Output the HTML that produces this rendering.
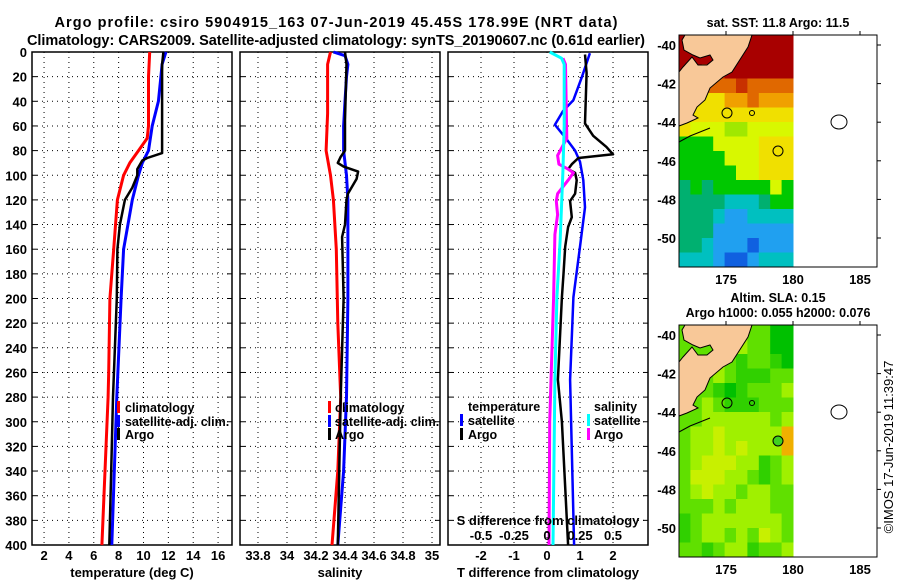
<!DOCTYPE html>
<html><head><meta charset="utf-8"><style>
body{margin:0;background:#fff}
svg{display:block;font-family:"Liberation Sans",Arial,sans-serif;font-weight:bold}
</style></head><body>
<svg id="s" width="900" height="580" viewBox="0 0 900 580">
<rect width="900" height="580" fill="#fff"/>
<text x="336" y="27" font-size="14.5" text-anchor="middle" textLength="563">Argo profile: csiro 5904915_163 07-Jun-2019 45.45S 178.99E (NRT data)</text>
<text x="336" y="45" font-size="14.5" text-anchor="middle" textLength="618">Climatology: CARS2009. Satellite-adjusted climatology: synTS_20190607.nc (0.61d earlier)</text>
<g id="g"></g>
<text transform="translate(893,447) rotate(-90)" font-size="13" font-weight="normal" text-anchor="middle">©IMOS 17-Jun-2019 11:39:47</text>
</svg>
<script>
// ---- profile data (depth in m) ----
const tClimDepth=[0,20,60,70,80,90,100,120,160,200,260,280,340,400];
const tClim=[10.5,10.4,10.4,10.3,9.6,8.9,8.4,7.9,7.6,7.3,7.2,7.15,6.9,6.65];
const tSatDepth=[0,10,20,40,60,80,90,100,120,160,200,280,340,400];
const tSat=[11.8,11.5,11.4,11.2,10.7,10.4,9.9,9.6,9.1,8.4,8.2,7.85,7.65,7.45];
const tArgoDepth=[0,10,40,82,86,88,95,100,110,120,140,160,200,280,340,400];
const tArgo=[11.6,11.5,11.5,11.5,10.3,9.9,9.5,9.5,9.1,8.5,8.1,7.9,7.85,7.55,7.4,7.25];
const sClimDepth=[0,10,50,80,100,120,160,220,280,340,400];
const sClim=[34.30,34.28,34.28,34.27,34.30,34.32,34.34,34.35,34.37,34.35,34.31];
const sSatDepth=[0,3,10,20,40,60,80,100,120,200,280,340,400];
const sSat=[34.32,34.40,34.42,34.41,34.40,34.39,34.39,34.41,34.42,34.42,34.41,34.39,34.35];
const sArgoDepth=[0,10,55,80,85,90,93,97,103,115,120,140,150,200,280,400];
const sArgo=[34.40,34.41,34.40,34.40,34.37,34.35,34.39,34.49,34.48,34.42,34.41,34.40,34.38,34.39,34.37,34.35];
const dTSatDepth=[1,20,39,48,59,71,80,89,104,126,158,199,266,400];
const dTSat=[1.30,1.06,0.80,0.48,0.24,0.60,0.85,1.0,1.1,1.15,1.0,0.8,0.7,0.82];
const dTArgoDepth=[2,17,58,68,77,83,86,91,95,98,104,115,121,134,142,158,180,199,266,300,400];
const dTArgo=[1.15,1.2,1.15,1.4,1.8,2.0,0.95,0.75,0.64,0.85,0.9,0.85,0.7,0.75,0.64,0.55,0.5,0.45,0.33,0.45,0.64];
const dSSatDepth=[0,5,10,60,97,152,199,266,400];
const dSSat=[0.02,0.11,0.13,0.13,0.12,0.10,0.075,0.06,0.045];
const dSArgoDepth=[5,10,70,84,91,95,98,104,115,121,132,148,199,300,400];
const dSArgo=[0.12,0.14,0.15,0.08,0.09,0.16,0.2,0.16,0.08,0.07,0.08,0.06,0.05,0.02,0.015];
const depthTicks=[0,20,40,60,80,100,120,140,160,180,200,220,240,260,280,300,320,340,360,380,400];
const tTicks=[2,4,6,8,10,12,14,16];
const sTicks=[33.8,34,34.2,34.4,34.6,34.8,35];
const dTTicks=[-2,-1,0,1,2];
const dSTicks=[-0.5,-0.25,0,0.25,0.5];
const dSTickLabels=["-0.5","-0.25","0","0.25","0.5"];

// ---- map grids ----
const sstRows=["RRRRRRRRRR","RRRRRRRRRR","RRrrRRRRRR","YoOOOrOOOO","YYYYooOooo","YYYYYYYYYY","Yyyyggyyyy","GGGyyyyYYY","GGGGyyyYYY","GGGGGyyYYY","TGTGGGGGyG","TTTTCCCTGG","TTTCBBCCCC","TTTBBBBBBB","TTCBBBDBBB","CCCBDDBCCC"];
const slaRows=["aaaddaaaGG","aaaddbaaGG","aaabadaadG","aaabadddaa","aaadGdaaab","aabadddaaa","aabbbbbbab","abbcbbbbbO","abbcbcbbbO","abcccbbdab","acccbbadab","abcbbabbaa","aaababbbaa","dabbbbbbba","dabbabacba","aadabbdaab"];
const pal={R:"#a80000",r:"#c83000",O:"#e06800",o:"#f0a000",Y:"#f0e000",y:"#d8f800",g:"#a0e800",G:"#00c800",T:"#00b070",C:"#00c0c0",B:"#20a0f0",D:"#1060e0",
 a:"#60e000",b:"#a0f000",c:"#c8f000",d:"#30d000"};
const pal2={G:"#00c000",O:"#f0b000"};

const NS="http://www.w3.org/2000/svg";
const G=document.getElementById('g');
function el(t,a,p){const e=document.createElementNS(NS,t);for(const k in a)e.setAttribute(k,a[k]);(p||G).appendChild(e);return e;}
function txt(x,y,s,fs,anchor,p){const e=el('text',{x:x,y:y,'font-size':fs,'text-anchor':anchor||'middle'},p);e.textContent=s;return e;}

const TOP=52,BOT=545;
const yD=d=>TOP+d*(BOT-TOP)/400;
function mkX(x0,x1,v0,v1){return v=>x0+(v-v0)*(x1-x0)/(v1-v0);}
const panels=[
 {x0:32,x1:232,name:'temperature-panel',sx:mkX(32,232,1.03,17.12),ticks:tTicks,lab:t=>String(t),title:'temperature (deg C)'},
 {x0:240,x1:440,name:'salinity-panel',sx:mkX(240,440,33.676,35.055),ticks:sTicks,lab:t=>String(t),title:'salinity'},
 {x0:448,x1:648,name:'difference-panel',sx:mkX(448,648,-3.00,3.06),ticks:dTTicks,lab:t=>String(t),title:'T difference from climatology'}
];
panels.forEach((P,i)=>{
 const g=el('g',{});
 
 
 depthTicks.forEach(d=>{
  if(d>0&&d<400){const l=el('line',{x1:P.x0,x2:P.x1,y1:yD(d),y2:yD(d),stroke:'#000','stroke-dasharray':'1,4'},g);
   }
  el('line',{x1:P.x0,x2:P.x0+5,y1:yD(d),y2:yD(d),stroke:'#000'},g);
  el('line',{x1:P.x1-5,x2:P.x1,y1:yD(d),y2:yD(d),stroke:'#000'},g);
 });
 P.ticks.forEach(t=>{
  const x=P.sx(t);
  const l=el('line',{x1:x,x2:x,y1:TOP,y2:BOT,stroke:'#000','stroke-dasharray':'1,4'},g);
  
  const tl=txt(x,560,P.lab(t),13,'middle',g);
  
 });
 const tt=txt((P.x0+P.x1)/2,577,P.title,13,'middle',g);
 
 const fr=el('rect',{x:P.x0,y:TOP,width:P.x1-P.x0,height:BOT-TOP,fill:'none',stroke:'#000','stroke-width':1.5},g);
 
});
depthTicks.forEach(d=>{const t=txt(27,yD(d)+5,String(d),13,'end');
 });

function line(depths,vals,sx,color,w,name){
 const pts=depths.map((d,i)=>sx(vals[i]).toFixed(1)+','+yD(d).toFixed(1)).join(' ');
 const p=el('polyline',{points:pts,fill:'none',stroke:color,'stroke-width':w,'stroke-linejoin':'round'});
 
}
const P0=panels[0].sx,P1=panels[1].sx,P2=panels[2].sx,PS=v=>P2(v*4);
line(tClimDepth,tClim,P0,'#f00',3,'temp-climatology-line');
line(tSatDepth,tSat,P0,'#00f',3,'temp-satellite-line');
line(tArgoDepth,tArgo,P0,'#000',2.5,'temp-argo-line');
line(sClimDepth,sClim,P1,'#f00',3,'sal-climatology-line');
line(sSatDepth,sSat,P1,'#00f',3,'sal-satellite-line');
line(sArgoDepth,sArgo,P1,'#000',2.5,'sal-argo-line');
line(dTSatDepth,dTSat,P2,'#00f',2.5,'tdiff-satellite-line');
line(dTArgoDepth,dTArgo,P2,'#000',2.5,'tdiff-argo-line');
line(dSArgoDepth,dSArgo,PS,'#f0f',3,'sdiff-argo-line');
line(dSSatDepth,dSSat,PS,'#0ff',3,'sdiff-satellite-line');

// S-diff axis labels inside panel 3
const st=txt(548,525,'S difference from climatology',13,'middle');

dSTicks.forEach((t,i)=>{const e=txt(PS(t),540,dSTickLabels[i],13,'middle');
 });

// legends
function leg(bx,tx,y,color,label,name){
 el('rect',{x:bx,y:y-11,width:3,height:12,fill:color});
 const t=txt(tx,y,label,12.5,'start');
 
}
leg(117,125,412,'#f00','climatology','legend-climatology');
leg(117,125,426,'#00f','satellite-adj. clim.','legend-satellite-adj');
leg(117,125,439,'#000','Argo','legend-argo');
leg(328,335,412,'#f00','climatology','legend-climatology-sal');
leg(328,335,426,'#00f','satellite-adj. clim.','legend-satellite-adj-sal');
leg(328,335,439,'#000','Argo','legend-argo-sal');
txt(468,411,'temperature',12.5,'start');
leg(460,468,425,'#00f','satellite','legend-t-satellite');
leg(460,468,439,'#000','Argo','legend-t-argo');
txt(594,411,'salinity',12.5,'start');
leg(587,594,425,'#0ff','satellite','legend-s-satellite');
leg(587,594,439,'#f0f','Argo','legend-s-argo');

// ---- maps ----
const MX0=679,MX1=877,DX1=793;
const lonX=lon=>726+(lon-175)*13.4;
const lonTicks=[175,180,185];
const latTicks=[-40,-42,-44,-46,-48,-50];
const land="685,35 752,35 748,47 732,72 723,77 710,88 705,100 697,107 693,115 698,118 687,123 679,126 679,72 683,67 692,57 698,65 707,65 713,60 710,55 700,58 693,55 684,50 682,40";
function map(top,rows,pl,name,latY0,circFill,titles){
 const g=el('g',{});
 
 const h=232, cw=(DX1-MX0)/10, ch=h/rows.length;
 rows.forEach((r,ri)=>{[...r].forEach((c,ci)=>{
  el('rect',{x:MX0+ci*cw,y:top+ri*ch,width:cw+0.5,height:ch+0.5,fill:(pl[c]||pal[c])},g);
 });});
 const off=top-35;
 const lg=el('g',{transform:'translate(0,'+off+')'},g);
 el('polygon',{points:land,fill:'#f8c898',stroke:'#000','stroke-width':1},lg);
 el('polyline',{points:'679,142 690,136 710,128',fill:'none',stroke:'#000'},lg);
 el('circle',{cx:727,cy:113,r:5,fill:'none',stroke:'#000'},lg);
 el('circle',{cx:752,cy:113,r:2.5,fill:'none',stroke:'#000'},lg);
 el('ellipse',{cx:839,cy:122,rx:8,ry:7,fill:'#fff',stroke:'#000'},lg);
 const c=el('circle',{cx:778,cy:151,r:5,fill:circFill,stroke:'#000'},lg);
 
 el('rect',{x:MX0,y:top,width:MX1-MX0,height:h,fill:'none',stroke:'#000'},g);
 latTicks.forEach(l=>{const y=latY0+(-40-l)*19.3;
  el('line',{x1:MX1,x2:MX1+4,y1:y,y2:y,stroke:'#000'},g);
  const t=txt(676,y+5,String(l),13,'end',g);
  });
 lonTicks.forEach(l=>{const x=lonX(l);
  el('line',{x1:x,x2:x,y1:top-4,y2:top,stroke:'#000'},g);
  const t=txt(x,top+h+17,String(l),13,'middle',g);
  });
 titles.forEach((s,i)=>{const t=txt(778,titles.length==1?27:top-23+i*15,s,12.5,'middle',g);
  });
}
map(35,sstRows,{},'sst-map',45,'none',['sat. SST: 11.8 Argo: 11.5']);
map(325,slaRows,pal2,'sla-map',335,'#40d020',['Altim. SLA: 0.15','Argo h1000: 0.055 h2000: 0.076']);
</script>
</body></html>
